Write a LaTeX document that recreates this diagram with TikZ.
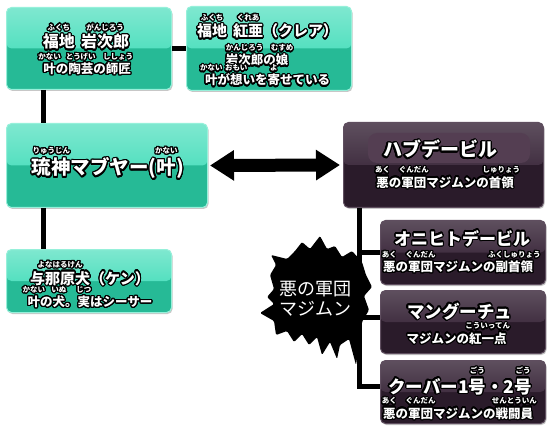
\documentclass[tikz,border=0pt]{standalone}
\usepackage{fontspec}
\setmainfont{Noto Sans CJK JP}
\usepackage[copies]{contour}
\contourlength{1.2pt}
\contournumber{24}
\usetikzlibrary{arrows.meta,calc,shadows}
\definecolor{gtop}{RGB}{84,224,192}
\definecolor{gbot}{RGB}{38,186,150}
\definecolor{grim}{RGB}{150,240,218}
\definecolor{dtop}{RGB}{66,48,66}
\definecolor{dbot}{RGB}{42,27,42}
\definecolor{dhi}{RGB}{84,62,82}
\definecolor{drim}{RGB}{95,78,95}
\newcommand\fsz[1]{\fontsize{#1}{#1}\selectfont}
\newcommand\rb[2]{\leavevmode\setbox0=\hbox{#1}\rlap{\hbox to\wd0{\hss\raisebox{\dimexpr1.05em+1pt\relax}[0pt][0pt]{\fsz{7.5}#2}\hss}}\box0}
\newcommand\ol[1]{\contour{black}{#1}}
\tikzset{
  boxbase/.style={rounded corners=5pt, line width=1pt, anchor=north west, inner sep=0pt,
    drop shadow={shadow xshift=1pt, shadow yshift=-1.5pt, opacity=0.22, fill=black}},
  gbox/.style={boxbase, draw=grim,
    path picture={\fill[gbot] (path picture bounding box.south west) rectangle (path picture bounding box.north east);
      \shade[top color=gtop!75!white, bottom color=gtop] (path picture bounding box.north west) rectangle (path picture bounding box.east);}},
  dbox/.style={boxbase, draw=drim,
    path picture={\fill[dbot] (path picture bounding box.south west) rectangle (path picture bounding box.north east);
      \shade[top color=dtop!85!white, bottom color=dtop] (path picture bounding box.north west) rectangle (path picture bounding box.east);}},
  txt/.style={text=white, inner sep=0pt, anchor=base, font=\bfseries},
  conn/.style={line width=5pt, black},
  bigarrow/.style={line width=13pt, {Triangle[length=24pt,width=29pt]}-{Triangle[length=24pt,width=29pt]}, shorten <=2pt, shorten >=3pt}
}
\begin{document}
\begin{tikzpicture}[x=1pt,y=-1pt]
\useasboundingbox[fill=white] (0,0) rectangle (550,428);
% boxes
\node[gbox, minimum width=165pt, minimum height=82pt] (b1) at (6,7) {};
\node[gbox, minimum width=165pt, minimum height=84pt] (b2) at (186,6) {};
\node[gbox, minimum width=201pt, minimum height=84pt] (b3) at (6,123) {};
\node[gbox, minimum width=165pt, minimum height=63pt] (ken) at (6,249) {};
\node[dbox, minimum width=200pt, minimum height=85pt] (habu) at (343,122) {};
\node[dbox, minimum width=165pt, minimum height=64pt] (oni) at (380,220) {};
\node[dbox, minimum width=165pt, minimum height=63pt] (mangu) at (380,290) {};
\node[dbox, minimum width=165pt, minimum height=63pt] (kupa) at (380,360) {};
\fill[dhi, rounded corners=9pt] (368,133) rectangle (530,163);
% blob
\fill[black, rounded corners=1.2pt] (320,236) -- (327,249) -- (335,246) -- (342,257) -- (352,251) -- (362,262) -- (366,275) -- (372,287) -- (364,296) -- (369,310) -- (362,322) -- (361,333) -- (356,365) -- (349,339) -- (340,345) -- (337,359) -- (330,342) -- (322,355) -- (317,337) -- (309,345) -- (302,334) -- (294,342) -- (287,331) -- (276,335) -- (274,321) -- (260,313) -- (274,304) -- (267,297) -- (274,289) -- (270,275) -- (276,265) -- (271,255) -- (287,259) -- (295,251) -- (302,242) -- (310,249) -- cycle;
\node[text=white, inner sep=0pt, anchor=base, font=\fsz{18}] (blob1) at (315,295) {悪の軍団};
\node[text=white, inner sep=0pt, anchor=base, font=\fsz{18}] (blob2) at (315,316) {マジムン};
% connectors
\coordinate (vx) at (43,0);
\coordinate (hx) at (359.5,0);
\draw[conn] (b1.east) -- (b2.west);
\draw[conn] (b1.south -| vx) -- (b3.north -| vx);
\draw[conn] (b3.south -| vx) -- (ken.north -| vx);
\draw[bigarrow] (b3.east) -- (habu.west);
\draw[conn] (habu.south -| hx) |- ([yshift=6pt]kupa.west);
\draw[conn] (oni.west -| hx) -- (oni.west);
\draw[conn] ([yshift=5pt]mangu.west -| hx) -- ([yshift=5pt]mangu.west);
% texts
\node[txt, font=\fsz{16}\bfseries] (b1n) at (86,48) {\ol{\rb{福地}{ふくち}\hspace{0.4em}\rb{岩次郎}{がんじろう}}};
\node[txt, font=\fsz{12.5}\bfseries] (b1s) at (87,73.5) {\ol{\rb{叶}{かない}の\rb{陶芸}{とうげい}の\rb{師匠}{ししょう}}};
\node[txt, font=\fsz{15}\bfseries] (b2n) at (267.5,37) {\ol{\rb{福地}{ふくち}\hspace{0.4em}\rb{紅亜}{くれあ}（クレア）}};
\node[txt, font=\fsz{12.5}\bfseries] (b2s1) at (257,65) {\ol{\rb{岩次郎}{かんじろう}の\rb{娘}{むすめ}}};
\node[txt, font=\fsz{12.5}\bfseries] (b2s2) at (267.5,85) {\ol{\rb{叶}{かない}が\rb{想}{おもい}いを\rb{寄}{よ}せている}};
\node[txt, font=\fsz{19.5}\bfseries] (b3n) at (108,175) {\ol{\rb{琉神}{りゅうじん}マブヤー(\rb{叶}{かない})}};
\node[txt, font=\fsz{15}\bfseries] (kenn) at (90,284) {\ol{\rb{与那原犬}{よなはるけん}（ケン）}};
\node[txt, font=\fsz{12.5}\bfseries] (kens) at (90,306.5) {\ol{\rb{叶}{かない}の\rb{犬}{いぬ}。\rb{実}{じつ}はシーサー}};
\node[txt, font=\fsz{19}\bfseries] (habun) at (440,157) {\ol{ハブデービル}};
\node[txt, font=\fsz{12.5}\bfseries] (habus) at (445,187) {\ol{\rb{悪}{あく}の\rb{軍団}{ぐんだん}マジムンの\rb{首領}{しゅりょう}}};
\node[txt, font=\fsz{17}\bfseries] (onin) at (462,245) {\ol{オニヒトデービル}};
\node[txt, font=\fsz{12.5}\bfseries] (onis) at (458,271.5) {\ol{\rb{悪}{あく}の\rb{軍団}{ぐんだん}マジムンの\rb{副首領}{ふくしゅりょう}}};
\node[txt, font=\fsz{17.5}\bfseries] (mangun) at (459.5,318) {\ol{マングーチュ}};
\node[txt, font=\fsz{12.5}\bfseries] (mangus) at (456.5,343) {\ol{マジムンの\rb{紅一点}{こういってん}}};
\node[txt, font=\fsz{17.5}\bfseries] (kupan) at (460,393) {\ol{クーバー1\rb{号}{ごう}・2\rb{号}{ごう}}};
\node[txt, font=\fsz{12.5}\bfseries] (kupas) at (458,418) {\ol{\rb{悪}{あく}の\rb{軍団}{ぐんだん}マジムンの\rb{戦闘員}{せんとういん}}};
\end{tikzpicture}
\end{document}
